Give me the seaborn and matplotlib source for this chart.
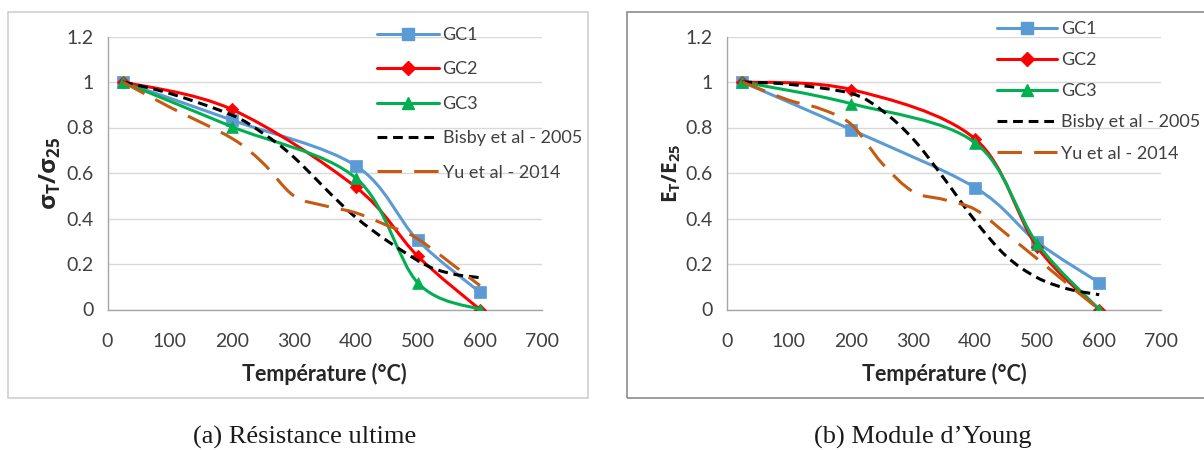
import matplotlib
matplotlib.use("Agg")
import matplotlib.pyplot as plt
import numpy as np
import seaborn as sns
from matplotlib.lines import Line2D
from matplotlib.patches import PathPatch, Rectangle
from matplotlib.path import Path

# ---- données ----
T_GC = [25, 200, 400, 500, 600]

# (a) résistance ultime
a_gc1 = [1.0, 0.833, 0.632, 0.304, 0.076]
a_gc2 = [1.0, 0.88, 0.538, 0.234, 0.0]
a_gc3 = [1.0, 0.804, 0.578, 0.117, 0.0]
T_bisby_a = [25, 100, 200, 250, 300, 400, 500, 550, 600]
a_bisby = [1.0, 0.95, 0.855, 0.775, 0.67, 0.405, 0.215, 0.16, 0.14]
T_yu_a = [25, 100, 200, 250, 300, 350, 400, 450, 500, 600]
a_yu = [1.0, 0.89, 0.753, 0.645, 0.50, 0.456, 0.425, 0.37, 0.31, 0.105]

# (b) module d'Young
b_gc1 = [1.0, 0.791, 0.536, 0.297, 0.118]
b_gc2 = [1.0, 0.967, 0.75, 0.275, 0.0]
b_gc3 = [1.0, 0.905, 0.733, 0.29, 0.0]
T_bisby_b = [25, 100, 200, 250, 300, 350, 400, 450, 500, 550, 600]
b_bisby = [1.0, 0.99, 0.95, 0.875, 0.75, 0.576, 0.39, 0.235, 0.14, 0.09, 0.065]
T_yu_b = [25, 100, 150, 200, 250, 300, 350, 400, 450, 500, 550, 600]
b_yu = [1.0, 0.92, 0.883, 0.815, 0.643, 0.518, 0.483, 0.44, 0.333, 0.223, 0.11, 0.0]

labels = ["GC1", "GC2", "GC3", "Bisby et al - 2005", "Yu et al - 2014"]
colors = ["#5B9BD5", "#FF0000", "#00B050", "#000000", "#C55A11"]
markers = ["s", "D", "^", None, None]
marker_size = [64, 40, 72, 0, 0]
dashes = ["-", "-", "-", (0, (3.2, 1.9)), (0, (8, 4))]

sns.set_theme(style="white")
plt.rcParams["font.family"] = ["Lato", "DejaVu Sans"]
plt.rcParams["mathtext.fontset"] = "custom"
plt.rcParams["mathtext.bf"] = "Open Sans:bold"
plt.rcParams["mathtext.rm"] = "Open Sans"

TXT = "#404040"
GRID = "#D9D9D9"
SPINE = "#A6A6A6"
LW = 2.2


def smooth_path(x, y):
    """Courbe lissée façon Excel (Bézier Catmull-Rom)."""
    pts = np.column_stack([x, y]).astype(float)
    n = len(pts)
    verts = [pts[0]]
    codes = [Path.MOVETO]
    for i in range(n - 1):
        p0 = pts[max(i - 1, 0)]
        p1 = pts[i]
        p2 = pts[i + 1]
        p3 = pts[min(i + 2, n - 1)]
        c1 = p1 + (p2 - p0) / 6
        c2 = p2 - (p3 - p1) / 6
        verts += [c1, c2, p2]
        codes += [Path.CURVE4] * 3
    return Path(verts, codes)


def draw_panel(ax, series, ylabel, ylabel_size):
    for k, (xs, ys) in enumerate(series):
        patch = PathPatch(smooth_path(xs, ys), fill=False, edgecolor=colors[k],
                          lw=LW, linestyle=dashes[k], capstyle="butt", zorder=3 + k)
        ax.add_patch(patch)
        if markers[k]:
            sns.scatterplot(x=xs, y=ys, marker=markers[k], color=colors[k], s=marker_size[k],
                            edgecolor=colors[k], linewidth=0.5, ax=ax, zorder=3 + k, legend=False)
    ax.set_xlim(0, 700)
    ax.set_ylim(0, 1.2)
    ax.set_xticks(np.arange(0, 701, 100))
    ax.set_yticks([0, 0.2, 0.4, 0.6, 0.8, 1.0, 1.2])
    ax.set_yticklabels(["0", "0.2", "0.4", "0.6", "0.8", "1", "1.2"])
    ax.grid(axis="y", color=GRID, lw=1)
    ax.set_axisbelow(True)
    for s in ("top", "right"):
        ax.spines[s].set_visible(False)
    for s in ("left", "bottom"):
        ax.spines[s].set_color(SPINE)
        ax.spines[s].set_linewidth(1)
    ax.tick_params(axis="both", direction="out", length=6, width=1, color=SPINE,
                   labelsize=14, labelcolor=TXT, pad=4)
    ax.tick_params(axis="x", pad=11)
    ax.set_xlabel("Température (°C)", fontsize=15.5, fontweight="bold", color="#262626", labelpad=9)
    ax.set_ylabel(ylabel, fontsize=ylabel_size, color="#262626", labelpad=2)


fig = plt.figure(figsize=(12.04, 4.5), dpi=100)
W, H = 1204, 450

# cadres des graphiques
fig.add_artist(Rectangle((8 / W, 1 - 398 / H), 580 / W, 386 / H, transform=fig.transFigure,
                         fill=False, edgecolor="#D0D0D0", lw=1.2))
fig.add_artist(Rectangle((627 / W, 1 - 398 / H), 600 / W, 386 / H, transform=fig.transFigure,
                         fill=False, edgecolor="#8C8C8C", lw=1.2))

ax1 = fig.add_axes([107.5 / W, 1 - 309.5 / H, 434.5 / W, 273 / H])
ax2 = fig.add_axes([726.8 / W, 1 - 309.5 / H, 434.5 / W, 273 / H])

draw_panel(ax1, [(T_GC, a_gc1), (T_GC, a_gc2), (T_GC, a_gc3),
                 (T_bisby_a, a_bisby), (T_yu_a, a_yu)],
           r"$\mathbf{σ}_\mathbf{T}\mathbf{/σ}_\mathbf{25}$", 17.5)
draw_panel(ax2, [(T_GC, b_gc1), (T_GC, b_gc2), (T_GC, b_gc3),
                 (T_bisby_b, b_bisby), (T_yu_b, b_yu)],
           r"$\mathbf{E}_\mathbf{T}\mathbf{/E}_\mathbf{25}$", 15)

handles = []
for k in range(5):
    handles.append(Line2D([], [], color=colors[k], lw=LW, linestyle=dashes[k],
                          marker=markers[k] if markers[k] else None,
                          markersize=9 if k != 1 else 7, markeredgecolor=colors[k]))

fig.legend(handles, labels, loc="upper left", bbox_to_anchor=(376.7 / W, 1 - 27 / H),
           frameon=False, fontsize=13, handlelength=3.45, handletextpad=0.2,
           labelspacing=1.02, borderpad=0, borderaxespad=0, labelcolor=TXT)
fig.legend(handles, labels, loc="upper left", bbox_to_anchor=(996.7 / W, 1 - 21 / H),
           frameon=False, fontsize=13, handlelength=3.35, handletextpad=0.2,
           labelspacing=0.84, borderpad=0, borderaxespad=0, labelcolor=TXT)

fig.text(305 / W, 1 - 437 / H, "(a) Résistance ultime", ha="center", va="center",
         fontsize=19, family="Liberation Serif", color="#1a1a1a")
fig.text(923 / W, 1 - 437 / H, "(b) Module d\u2019Young", ha="center", va="center",
         fontsize=19, family="Liberation Serif", color="#1a1a1a")

fig.savefig("out.png", dpi=100)
